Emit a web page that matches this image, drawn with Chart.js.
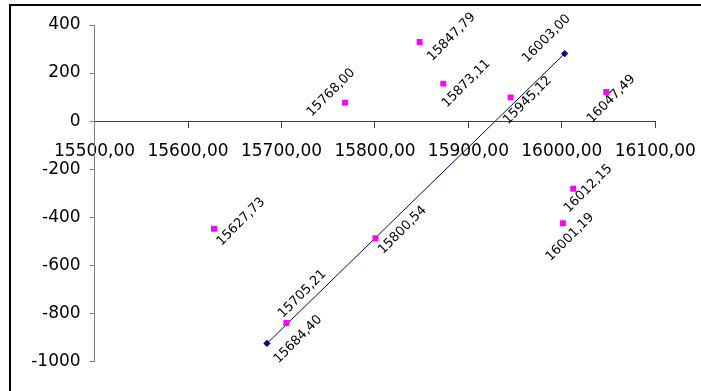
<!DOCTYPE html>
<html>
<head>
<meta charset="utf-8">
<script src="https://cdn.jsdelivr.net/npm/chart.js@4.4.1/dist/chart.umd.min.js"></script>
<style>
  html, body { margin: 0; padding: 0; background: #ffffff; }
  canvas { display: block; }
</style>
</head>
<body>
<canvas id="c" width="701" height="391"></canvas>
<script>
// Axis ranges and tick spacing
const xRange = [15500, 16100];
const xStep = 100;
const yRange = [-1000, 400];
const yStep = 200;

// Measured points
const sampleX = [15627.73, 15705.21, 15768.00, 15800.54, 15847.79, 15873.11, 15945.12, 16001.19, 16012.15, 16047.49];
const sampleY = [-448, -840, 77, -487, 329, 156, 99, -425, -281, 121];

// Straight line through two reference points
const lineX = [15684.40, 16003.00];
const lineY = [-925, 281];

// Where each rotated value label sits relative to its marker (px)
const sampleLabelShift = [[27, -7], [16, -29], [-14, -10], [27, -8], [32, -5], [23, 0], [17, 3], [7, 14], [15, 0], [5, 7]];
const lineLabelShift = [[31, -4], [-18, -15]];

const fmtComma = v => Number(v).toFixed(2).replace('.', ',');

Chart.defaults.font.family = "'DejaVu Sans', sans-serif";
Chart.defaults.color = '#000000';

const frame = {
  id: 'frame',
  afterDraw(chart) {
    const ctx = chart.ctx;
    ctx.save();
    ctx.fillStyle = '#000000';
    ctx.fillRect(9, 4, 2, chart.height - 4);
    ctx.fillRect(9, 4, chart.width - 9, 2);
    ctx.restore();
  }
};

const valueLabels = {
  id: 'valueLabels',
  afterDatasetsDraw(chart) {
    const ctx = chart.ctx;
    const shifts = [sampleLabelShift, lineLabelShift];
    ctx.save();
    ctx.font = "13px 'DejaVu Sans', sans-serif";
    ctx.fillStyle = '#000000';
    ctx.textAlign = 'center';
    ctx.textBaseline = 'middle';
    chart.data.datasets.forEach((ds, di) => {
      const meta = chart.getDatasetMeta(di);
      meta.data.forEach((pt, i) => {
        const s = shifts[di][i];
        ctx.save();
        ctx.translate(pt.x + s[0], pt.y + s[1]);
        ctx.rotate(-Math.PI / 4);
        ctx.fillText(fmtComma(ds.data[i].x), 0, 0);
        ctx.restore();
      });
    });
    ctx.restore();
  }
};

new Chart(document.getElementById('c'), {
  type: 'scatter',
  data: {
    datasets: [
      {
        data: sampleX.map((x, i) => ({ x, y: sampleY[i] })),
        pointStyle: 'rect',
        pointRadius: 4.2,
        pointBorderWidth: 0,
        backgroundColor: '#ff00ff',
        borderColor: '#ff00ff'
      },
      {
        data: lineX.map((x, i) => ({ x, y: lineY[i] })),
        showLine: true,
        borderColor: '#000080',
        borderWidth: 1,
        pointStyle: 'rectRot',
        pointRadius: 3.6,
        pointBorderWidth: 0,
        backgroundColor: '#000080'
      }
    ]
  },
  options: {
    responsive: false,
    animation: false,
    devicePixelRatio: 1,
    layout: { padding: { left: 0, right: 45.7, top: 25, bottom: 29.5 } },
    plugins: { legend: { display: false }, tooltip: { enabled: false } },
    scales: {
      x: {
        type: 'linear',
        position: { y: 0 },
        min: xRange[0],
        max: xRange[1],
        grid: { display: true, drawOnChartArea: false, drawTicks: true, tickLength: 6, color: '#404040' },
        border: { display: true, color: '#404040', width: 1 },
        ticks: {
          stepSize: xStep,
          autoSkip: false,
          maxRotation: 0,
          minRotation: 0,
          padding: 14,
          font: { size: 17 },
          color: '#000000',
          callback: v => fmtComma(v)
        },
        afterFit(scale) { scale.paddingLeft = 0; scale.paddingRight = 0; }
      },
      y: {
        type: 'linear',
        position: 'left',
        min: yRange[0],
        max: yRange[1],
        grid: { display: true, drawOnChartArea: false, drawTicks: true, tickLength: 5, color: '#808080' },
        border: { display: true, color: '#808080', width: 1 },
        ticks: {
          stepSize: yStep,
          padding: 9,
          font: { size: 17 },
          color: '#000000',
          callback: v => String(v)
        },
        afterFit(scale) { scale.width = 94.6; scale.paddingTop = 0; scale.paddingBottom = 0; }
      }
    }
  },
  plugins: [valueLabels, frame]
});
</script>
</body>
</html>
